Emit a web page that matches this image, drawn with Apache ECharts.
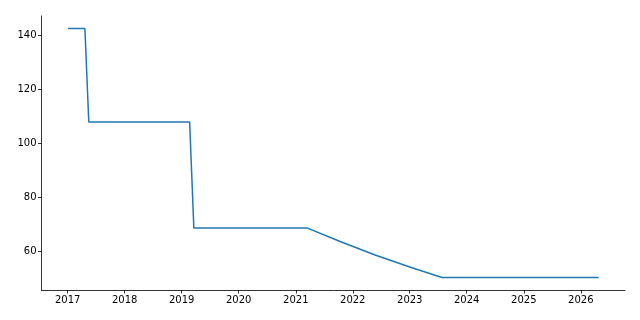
<!DOCTYPE html>
<html>
<head>
<meta charset="utf-8">
<script src="https://cdn.jsdelivr.net/npm/echarts@6/dist/echarts.min.js"></script>
<style>
html,body{margin:0;padding:0;background:#fff;}
#chart{width:640px;height:320px;}
</style>
</head>
<body>
<div id="chart"></div>
<script>
// Data
const dates = [
  '2017-01-03','2017-04-21','2017-05-16','2019-02-21','2019-03-20',
  '2021-03-17','2021-10-12','2022-05-24','2023-01-01','2023-07-26','2026-04-25'
];
const values = [
  142.6, 142.6, 107.9, 107.9, 68.6,
  68.6, 63.6, 58.6, 54.2, 50.3, 50.3
];
const yTicks = [60, 80, 100, 120, 140];
const xTickYears = [2017, 2018, 2019, 2020, 2021, 2022, 2023, 2024, 2025, 2026];

const xMin = '2016-07-17';
const xMax = '2026-10-11';
const yMin = 45.65;
const yMax = 147.2;

const ts = s => new Date(s + 'T00:00:00Z').getTime();
const seriesData = dates.map((d, i) => [ts(d), values[i]]);
const xTickValues = xTickYears.map(y => ts(y + '-01-01'));

const chart = echarts.init(document.getElementById('chart'), null, {renderer: 'canvas'});
const font = {fontFamily: 'DejaVu Sans', fontSize: 10, color: '#000'};
chart.setOption({
  animation: false,
  backgroundColor: '#fff',
  grid: {left: 41.5, right: 15, top: 16, bottom: 30, containLabel: false},
  xAxis: {
    type: 'value',
    min: ts(xMin),
    max: ts(xMax),
    axisLine: {show: true, onZero: false, lineStyle: {color: '#000', width: 0.8}},
    axisTick: {show: true, length: 3.5, inside: false, lineStyle: {color: '#000', width: 0.8}, customValues: xTickValues},
    axisLabel: Object.assign({margin: 5, customValues: xTickValues, formatter: v => String(new Date(v).getUTCFullYear())}, font),
    splitLine: {show: false}
  },
  yAxis: {
    type: 'value',
    min: yMin,
    max: yMax,
    axisLine: {show: true, onZero: false, lineStyle: {color: '#000', width: 0.8}},
    axisTick: {show: true, length: 3.5, lineStyle: {color: '#000', width: 0.8}, customValues: yTicks},
    axisLabel: Object.assign({margin: 5, customValues: yTicks}, font),
    splitLine: {show: false}
  },
  series: [{
    type: 'line',
    data: seriesData,
    showSymbol: false,
    lineStyle: {color: '#1f77b4', width: 1.5},
    itemStyle: {color: '#1f77b4'}
  }]
});
</script>
</body>
</html>
